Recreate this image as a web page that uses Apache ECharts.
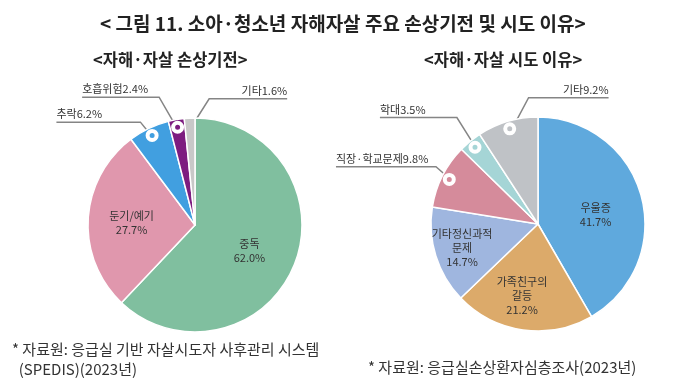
<!DOCTYPE html>
<html><head><meta charset="utf-8">
<script src="https://cdn.jsdelivr.net/npm/echarts@6/dist/echarts.min.js"></script>
<style>html,body{margin:0;padding:0;background:#fff}#c{width:680px;height:384px}</style>
</head><body><div id="c"></div>
<script>
// ---- data ----
const mechCategories = ['중독', '둔기/예기', '추락', '호흡위험', '기타'];
const mechValues = [62.0, 27.7, 6.2, 2.4, 1.6];
const reasonCategories = ['우울증', '가족친구의 갈등', '기타정신과적 문제', '직장·학교문제', '학대', '기타'];
const reasonValues = [41.7, 21.2, 14.7, 9.8, 3.5, 9.2];

// ---- styles / layout ----
const mechColors = ['#80bf9f', '#e097ad', '#419fe0', '#7d1c80', '#c8c8c8'];
const reasonColors = ['#5fa9dd', '#dcaa6a', '#9fb6df', '#d58b9b', '#a5d5d6', '#bfc2c6'];
const FONT = '"Noto Sans CJK KR", sans-serif';
const leftPie = { cx: 195, cy: 225, r: 107 };
const rightPie = { cx: 538, cy: 224, r: 107 };
const MARK = 0.9;
const mechOut = { '호흡위험': { ex: -19, ey: -33, len: -77 }, '추락': { ex: -13, ey: -16, len: -84 }, '기타': { ex: 19, ey: -30, len: 78 } };
const reasonOut = { '기타': { ex: 18, ey: -34, len: 80 }, '학대': { ex: -20, ey: -32, len: -77 }, '직장·학교문제': { ex: -16, ey: -14, len: -100 } };
const mechIn = { '중독': [2, 5], '둔기/예기': [-7, 1] };
const reasonIn = { '우울증': [3, 5], '가족친구의 갈등': [-8, 16], '기타정신과적 문제': [-22, 7] };

function buildData(names, values, colors, outCfg) {
  return names.map((n, i) => {
    const out = !!outCfg[n];
    return {
      name: n, value: values[i], itemStyle: { color: colors[i] },
      label: out ? { position: 'outside', formatter: n + values[i].toFixed(1) + '%' }
                 : { position: 'inside', formatter: n.replace(' ', '\n') + '\n' + values[i].toFixed(1) + '%' },
      labelLine: { show: out }
    };
  });
}
function buildMarkers(names, values, outCfg) {
  return names.map((n, i) => ({ name: n, value: values[i], label: { show: !!outCfg[n] } }));
}
function makeLayout(pie, names, outCfg, inCfg) {
  return function (params) {
    const n = names[params.dataIndex];
    const o = outCfg[n];
    if (o && params.labelLinePoints) {
      const p0 = params.labelLinePoints[0];
      const ax = pie.cx + (p0[0] - pie.cx) * MARK, ay = pie.cy + (p0[1] - pie.cy) * MARK;
      const exx = ax + o.ex, eyy = ay + o.ey;
      const d = Math.hypot(o.ex, o.ey);
      const sx = ax + o.ex / d * 6, sy = ay + o.ey / d * 6;
      const endX = exx + o.len;
      return {
        x: endX, y: eyy - 1,
        align: o.len < 0 ? 'left' : 'right', verticalAlign: 'bottom',
        labelLinePoints: [[sx, sy], [exx, eyy], [endX, eyy]]
      };
    }
    const v = inCfg[n] || [0, 0];
    return { dx: v[0], dy: v[1] };
  };
}
function pieSeries(pie, names, values, colors, outCfg, inCfg) {
  return {
    type: 'pie', center: [pie.cx, pie.cy], radius: pie.r, startAngle: 90, clockwise: true,
    avoidLabelOverlap: false, silent: true,
    itemStyle: { borderColor: '#fff', borderWidth: 1.5 },
    label: { fontFamily: FONT, fontSize: 11, color: '#333', lineHeight: 14, align: 'center' },
    labelLine: { lineStyle: { color: '#858585', width: 1.5 }, length: 10, length2: 10 },
    labelLayout: makeLayout(pie, names, outCfg, inCfg),
    data: buildData(names, values, colors, outCfg)
  };
}
function markerSeries(pie, names, values, outCfg) {
  return {
    type: 'pie', center: [pie.cx, pie.cy], radius: [pie.r * 0.8, pie.r], startAngle: 90, clockwise: true,
    avoidLabelOverlap: false, silent: true, z: 5,
    itemStyle: { color: 'transparent', borderWidth: 0 },
    label: { position: 'inside', formatter: '{m|}', rich: { m: { width: 9, height: 9, borderRadius: 9, borderColor: '#fff', borderWidth: 2, backgroundColor: 'rgba(0,0,0,0)' } } },
    labelLine: { show: false },
    data: buildMarkers(names, values, outCfg)
  };
}

const chart = echarts.init(document.getElementById('c'), null, { renderer: 'canvas' });
const tStyle = (size, weight) => ({ fontFamily: FONT, fontSize: size, fontWeight: weight, color: '#222' });
chart.setOption({
  backgroundColor: '#fff',
  animation: false,
  title: [
    { text: '< 그림 11. 소아·청소년 자해자살 주요 손상기전 및 시도 이유>', left: 95, top: 9, textStyle: tStyle(19, 'bold') },
    { text: '<자해·자살 손상기전>', left: 88, top: 46, textStyle: tStyle(16.5, 'bold') },
    { text: '<자해·자살 시도 이유>', left: 419, top: 46, textStyle: tStyle(16.5, 'bold') },
    { text: '* 자료원: 응급실 기반 자살시도자 사후관리 시스템\n  (SPEDIS)(2023년)', left: 7, top: 334, textStyle: { fontFamily: FONT, fontSize: 15, color: '#333', lineHeight: 20, fontWeight: 'normal' } },
    { text: '* 자료원: 응급실손상환자심층조사(2023년)', left: 363, top: 355, textStyle: { fontFamily: FONT, fontSize: 15, color: '#333', fontWeight: 'normal' } }
  ],
  series: [
    pieSeries(leftPie, mechCategories, mechValues, mechColors, mechOut, mechIn),
    markerSeries(leftPie, mechCategories, mechValues, mechOut),
    pieSeries(rightPie, reasonCategories, reasonValues, reasonColors, reasonOut, reasonIn),
    markerSeries(rightPie, reasonCategories, reasonValues, reasonOut)
  ]
});
</script></body></html>
